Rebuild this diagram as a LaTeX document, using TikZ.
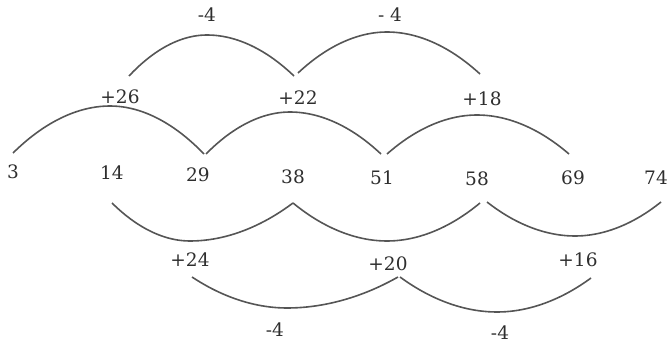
\documentclass[tikz,border=0pt]{standalone}
\usepackage{fontspec}
\setmainfont{DejaVu Serif}
\definecolor{txt}{HTML}{2E2E2E}
\definecolor{ln}{HTML}{555555}
\begin{document}
\begin{tikzpicture}[x=1pt,y=-1pt,
  num/.style={font=\fontsize{18.5}{20}\selectfont, text=txt, inner sep=0pt},
  arcline/.style={draw=ln, line width=1.6pt}]
\useasboundingbox (0,0) rectangle (671,352);
% numbers row
\node[num] (n3)  at (13,172) {3};
\node[num] (n14) at (112,173) {14};
\node[num] (n29) at (198,175) {29};
\node[num] (n38) at (293,177) {38};
\node[num] (n51) at (382,178) {51};
\node[num] (n58) at (477,179) {58};
\node[num] (n69) at (573,178) {69};
\node[num] (n74) at (656,178) {74};
% labels
\node[num] (tA) at (207,15) {-4};
\node[num] (tB) at (390,15) {- 4};
\node[num] (u26) at (120,97) {+26};
\node[num] (u22) at (298,98) {+22};
\node[num] (u18) at (482,99) {+18};
\node[num] (d24) at (190,260) {+24};
\node[num] (d20) at (388,264) {+20};
\node[num] (d16) at (578,260) {+16};
\node[num] (bA) at (275,330) {-4};
\node[num] (bB) at (500,333) {-4};
% arc coordinates
\coordinate (a1s) at (13,153);  \coordinate (a1p) at (110,106); \coordinate (a1e) at (204,154);
\coordinate (a2s) at (206,154); \coordinate (a2p) at (290,112); \coordinate (a2e) at (381,154);
\coordinate (a3s) at (387,154); \coordinate (a3p) at (477,115); \coordinate (a3e) at (569,154);
\coordinate (t1s) at (129,76);  \coordinate (t1p) at (207,35);  \coordinate (t1e) at (294,76);
\coordinate (t2s) at (298,73);  \coordinate (t2p) at (387,32);  \coordinate (t2e) at (480,74);
\coordinate (l1s) at (112,203); \coordinate (l1p) at (190,241); \coordinate (l1e) at (293,203);
\coordinate (l2s) at (293,203); \coordinate (l2p) at (387,241); \coordinate (l2e) at (480,203);
\coordinate (l3s) at (487,202); \coordinate (l3p) at (575,236); \coordinate (l3e) at (661,202);
\coordinate (b1s) at (192,277); \coordinate (b1p) at (287,308); \coordinate (b1e) at (398,277);
\coordinate (b2s) at (400,277); \coordinate (b2p) at (497,312); \coordinate (b2e) at (591,278);
% arcs
\draw[arcline] (a1s) parabola bend (a1p) (a1e);
\draw[arcline] (a2s) parabola bend (a2p) (a2e);
\draw[arcline] (a3s) parabola bend (a3p) (a3e);
\draw[arcline] (t1s) parabola bend (t1p) (t1e);
\draw[arcline] (t2s) parabola bend (t2p) (t2e);
\draw[arcline] (l1s) parabola bend (l1p) (l1e);
\draw[arcline] (l2s) parabola bend (l2p) (l2e);
\draw[arcline] (l3s) parabola bend (l3p) (l3e);
\draw[arcline] (b1s) parabola bend (b1p) (b1e);
\draw[arcline] (b2s) parabola bend (b2p) (b2e);
\end{tikzpicture}
\end{document}
